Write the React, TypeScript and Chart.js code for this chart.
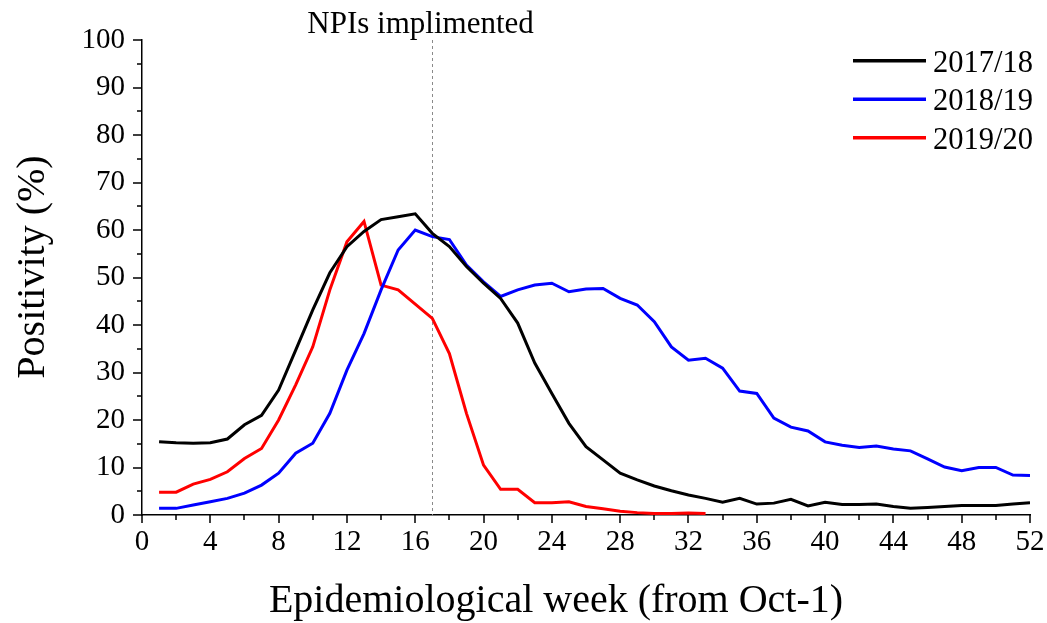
import React, { useEffect, useRef } from 'react';
import { Chart, registerables } from 'chart.js';

Chart.register(...registerables);

const weeks = [
  1, 2, 3, 4, 5, 6, 7, 8, 9, 10, 11, 12, 13, 14, 15, 16, 17, 18, 19, 20, 21, 22, 23, 24, 25, 26,
  27, 28, 29, 30, 31, 32, 33, 34, 35, 36, 37, 38, 39, 40, 41, 42, 43, 44, 45, 46, 47, 48, 49, 50, 51, 52,
];

const season1718 = [
  15.4, 15.2, 15.1, 15.2, 16.0, 19.0, 21.0, 26.3, 34.7, 43.2,
  51.0, 56.5, 59.7, 62.2, 62.8, 63.4, 59.3, 56.5, 52.3, 48.8,
  45.6, 40.4, 32.0, 25.6, 19.3, 14.4, 11.6, 8.8, 7.4, 6.1,
  5.1, 4.2, 3.5, 2.7, 3.5, 2.3, 2.5, 3.3, 1.9, 2.7,
  2.2, 2.2, 2.3, 1.8, 1.4, 1.6, 1.8, 2.0, 2.0, 2.0,
  2.3, 2.6,
];

const season1819 = [
  1.4, 1.4, 2.1, 2.8, 3.5, 4.6, 6.3, 8.8, 13.0, 15.1,
  21.4, 30.5, 38.2, 47.4, 55.8, 60.0, 58.6, 58.0, 52.6, 49.1,
  46.0, 47.4, 48.4, 48.8, 47.0, 47.6, 47.7, 45.6, 44.2, 40.7,
  35.4, 32.6, 33.0, 30.9, 26.1, 25.6, 20.4, 18.5, 17.7, 15.4,
  14.7, 14.2, 14.5, 13.9, 13.5, 11.8, 10.1, 9.3, 10.0, 10.0,
  8.4, 8.3,
];

const season1920 = [
  4.8, 4.8, 6.5, 7.5, 9.1, 11.9, 14.0, 20.0, 27.4, 35.4,
  47.4, 57.5, 61.8, 48.4, 47.4, 44.4, 41.4, 34.0, 21.4, 10.5,
  5.4, 5.4, 2.6, 2.6, 2.8, 1.8, 1.3, 0.8, 0.5, 0.3,
  0.3, 0.4, 0.3,
];

const seriesLabels = ['2017/18', '2018/19', '2019/20'];
const seriesColors = ['#000000', '#0000ff', '#ff0000'];

const xTitle = 'Epidemiological week (from Oct-1)';
const yTitle = 'Positivity (%)';
const npiWeek = 17;
const npiLabel = 'NPIs implimented';

const FONT = "'Liberation Serif', 'Times New Roman', serif";

function toPoints(values: number[]) {
  return values.map((v, i) => ({ x: weeks[i], y: v }));
}

const decorPlugin = {
  id: 'decor',
  beforeDatasetsDraw(chart: any) {
    const { ctx, chartArea } = chart;
    const xs = chart.scales.x;
    const px = xs.getPixelForValue(npiWeek);
    ctx.save();
    ctx.strokeStyle = '#8a8a8a';
    ctx.lineWidth = 1;
    ctx.setLineDash([3, 3]);
    ctx.beginPath();
    ctx.moveTo(Math.round(px) + 0.5, chartArea.top);
    ctx.lineTo(Math.round(px) + 0.5, chartArea.bottom);
    ctx.stroke();
    ctx.restore();
  },
  afterDraw(chart: any) {
    const { ctx, chartArea } = chart;
    const xs = chart.scales.x;
    const ys = chart.scales.y;
    ctx.save();
    // tick marks
    ctx.strokeStyle = '#000';
    ctx.lineWidth = 1.5;
    ctx.beginPath();
    for (let v = 0; v <= 52; v += 2) {
      const x = Math.round(xs.getPixelForValue(v));
      const len = v % 4 === 0 ? 8 : 5;
      ctx.moveTo(x, chartArea.bottom);
      ctx.lineTo(x, chartArea.bottom + len);
    }
    for (let v = 0; v <= 100; v += 5) {
      const y = Math.round(ys.getPixelForValue(v));
      const len = v % 10 === 0 ? 9 : 5;
      ctx.moveTo(chartArea.left, y);
      ctx.lineTo(chartArea.left - len, y);
    }
    ctx.stroke();

    ctx.fillStyle = '#000';
    ctx.textBaseline = 'alphabetic';

    // axis titles
    ctx.font = `40px ${FONT}`;
    ctx.textAlign = 'center';
    ctx.fillText(xTitle, chartArea.left + 414, 612);
    ctx.save();
    ctx.translate(44, 267);
    ctx.rotate(-Math.PI / 2);
    ctx.fillText(yTitle, 0, 0);
    ctx.restore();

    // annotation text
    const px = xs.getPixelForValue(npiWeek);
    ctx.font = `31px ${FONT}`;
    ctx.textAlign = 'left';
    ctx.fillText(npiLabel, px - 125, chartArea.top - 7);

    // legend
    const lx0 = chartArea.right - 177;
    const lx1 = chartArea.right - 104;
    const gap = 38.5;
    chart.data.datasets.forEach((ds: any, i: number) => {
      const y = chartArea.top + 20.7 + i * gap;
      ctx.strokeStyle = ds.borderColor;
      ctx.lineWidth = 3.5;
      ctx.beginPath();
      ctx.moveTo(lx0, y);
      ctx.lineTo(lx1, y);
      ctx.stroke();
      ctx.fillStyle = '#000';
      ctx.font = `30.5px ${FONT}`;
      ctx.fillText(ds.label, lx1 + 7, y + 11);
    });
    ctx.restore();
  },
};

export default function App() {
  const ref = useRef<HTMLCanvasElement | null>(null);

  useEffect(() => {
    if (!ref.current) return;
    const seriesData = [season1718, season1819, season1920];
    const chart = new Chart(ref.current, {
      type: 'line',
      data: {
        datasets: seriesData.map((vals, i) => ({
          label: seriesLabels[i],
          data: toPoints(vals),
          borderColor: seriesColors[i],
          backgroundColor: seriesColors[i],
          borderWidth: 3,
          pointRadius: 0,
          tension: 0,
          fill: false,
        })),
      },
      options: {
        animation: false,
        responsive: false,
        devicePixelRatio: 1,
        layout: { padding: { left: 0, right: 17, top: 40, bottom: 0 } },
        plugins: {
          legend: { display: false },
          tooltip: { enabled: false },
        },
        scales: {
          x: {
            type: 'linear',
            min: 0,
            max: 52,
            ticks: {
              stepSize: 4,
              color: '#000',
              font: { family: FONT, size: 29 },
              padding: 2,
              maxRotation: 0,
              autoSkip: false,
            },
            grid: { display: false, tickLength: 8 },
            border: { display: true, color: '#000', width: 1.5 },
            title: { display: false },
            afterFit: (s: any) => {
              s.height = 108;
              s.paddingLeft = 0;
              s.paddingRight = 0;
            },
          },
          y: {
            type: 'linear',
            min: 0,
            max: 100,
            ticks: {
              stepSize: 10,
              color: '#000',
              font: { family: FONT, size: 29 },
              padding: 8,
            },
            grid: { display: false, tickLength: 9 },
            border: { display: true, color: '#000', width: 1.5 },
            title: { display: false },
            afterFit: (s: any) => {
              s.width = 142;
              s.paddingTop = 0;
              s.paddingBottom = 0;
            },
          },
        },
      },
      plugins: [decorPlugin],
    } as any);
    return () => chart.destroy();
  }, []);

  return (
    <div style={{ position: 'absolute', left: 0, top: 0, width: 1047, height: 623 }}>
      <canvas ref={ref} width={1047} height={623} style={{ display: 'block' }} />
    </div>
  );
}
